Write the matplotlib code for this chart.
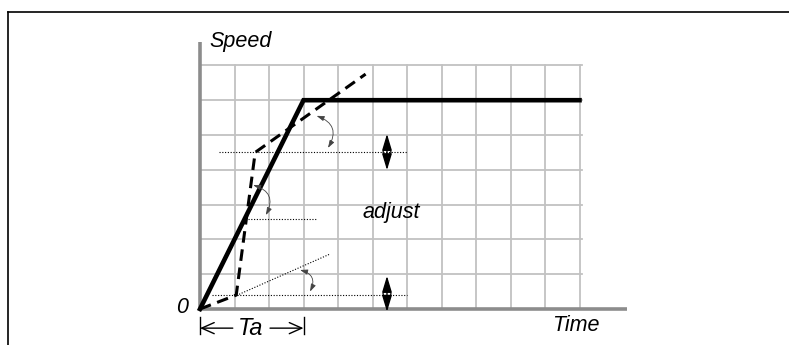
import matplotlib
matplotlib.use("Agg")
import matplotlib.pyplot as plt
from matplotlib.lines import Line2D

plt.rcParams['font.family'] = ['Liberation Sans', 'DejaVu Sans']

# grid in cell units
n_cols = 11
n_rows = 7

# solid speed profile (time, speed)
solid_t = [0, 3, 11]
solid_v = [0, 6, 6]

# dashed (adjusted) profile
dash_t = [0, 1.05, 1.6, 4.8]
dash_v = [0, 0.4, 4.5, 6.75]

# dotted reference lines: (y, x_start, x_end)
hlines_y = [4.52, 2.6, 0.39]
hlines_x0 = [0.55, 1.4, 0.34]
hlines_x1 = [6.0, 3.38, 6.0]
slant_t = [1.06, 3.77]
slant_v = [0.39, 1.58]

# curved angle arrows: start / end points
arc_start = [(3.38, 5.55), (1.54, 3.56), (2.90, 1.12)]
arc_end = [(3.71, 4.63), (1.91, 2.70), (3.19, 0.50)]

# vertical "adjust" double arrows
adj_x = 5.42
adj_top = [5.03, 0.95]
adj_bot = [3.99, -0.08]

# Ta span
ta_t0, ta_t1 = 0, 3

fig = plt.figure(figsize=(7.89, 3.45), dpi=100)
ax = fig.add_axes([0, 0, 1, 1])
px_x = 34.5
px_y = 34.8
ax.set_xlim(-200 / px_x, (789 - 200) / px_x)
ax.set_ylim(-36 / px_y, 309 / px_y)
ax.axis('off')

# frame (top and left only)
fig.add_artist(Line2D([8 / 789, 1], [1 - 12 / 345, 1 - 12 / 345], color='black', lw=1.2))
fig.add_artist(Line2D([8 / 789, 8 / 789], [0, 1 - 12 / 345], color='black', lw=1.2))

# grid
for i in range(1, n_cols + 1):
    ax.plot([i, i], [0, n_rows], color='#c2c2c2', lw=1.3, zorder=1)
for j in range(1, n_rows + 1):
    ax.plot([0, n_cols + 0.07], [j, j], color='#c2c2c2', lw=1.3, zorder=1)

# axes
ax.plot([0, 0], [0, 7.67], color='#8c8c8c', lw=2.6, zorder=2, solid_capstyle='butt')
ax.plot([0, 12.38], [0, 0], color='#8c8c8c', lw=2.6, zorder=2, solid_capstyle='butt')

# dotted reference lines
for y, x0, x1 in zip(hlines_y, hlines_x0, hlines_x1):
    ax.plot([x0, x1], [y, y], color='black', lw=0.8, ls=(0, (1, 1.5)), zorder=3)
ax.plot(slant_t, slant_v, color='black', lw=0.8, ls=(0, (1, 1.5)), zorder=3)

# profiles
ax.plot(solid_t, solid_v, color='black', lw=3.3, zorder=5, solid_joinstyle='miter')
ax.plot(dash_t, dash_v, color='black', lw=2.2, ls=(0, (3.8, 2.2)), zorder=4,
        dash_joinstyle='round')

# curved angle arrows
for s, e in zip(arc_start, arc_end):
    ax.annotate('', xy=e, xytext=s,
                arrowprops=dict(arrowstyle='<|-|>,head_length=0.45,head_width=0.15',
                                connectionstyle='arc3,rad=-0.6', color='#444444',
                                lw=0.6, shrinkA=0, shrinkB=0, mutation_scale=10),
                zorder=6)

# vertical double arrows with hollow diamond
for top, bot in zip(adj_top, adj_bot):
    ax.annotate('', xy=(adj_x, top), xytext=(adj_x, bot),
                arrowprops=dict(arrowstyle='<|-|>,head_length=1.0,head_width=0.3',
                                color='black', lw=1.0, shrinkA=0, shrinkB=0,
                                mutation_scale=10),
                zorder=6)
    mid = (top + bot) / 2
    h = (top - bot) * 0.3
    dw = 0.12
    ax.plot([adj_x, adj_x - dw, adj_x, adj_x + dw, adj_x],
            [top - h, mid, bot + h, mid, top - h], color='black', lw=0.8, zorder=6)

# Ta span
for t in (ta_t0, ta_t1):
    ax.plot([t, t], [-0.22, -0.72], color='black', lw=1.0)
ax.annotate('', xy=(ta_t0, -0.55), xytext=(0.95, -0.55),
            arrowprops=dict(arrowstyle='->,head_length=0.9,head_width=0.4', color='black',
                            lw=1.0, shrinkA=0, shrinkB=0, mutation_scale=10))
ax.annotate('', xy=(ta_t1, -0.55), xytext=(2.03, -0.55),
            arrowprops=dict(arrowstyle='->,head_length=0.9,head_width=0.4', color='black',
                            lw=1.0, shrinkA=0, shrinkB=0, mutation_scale=10))

fs = 15.5
ax.text(1.48, -0.55, 'Ta', fontsize=17, style='italic', ha='center', va='center')
ax.text(0.26, 7.70, 'Speed', fontsize=fs, style='italic', ha='left', va='center')
ax.text(-0.52, 0.03, '0', fontsize=fs, style='italic', ha='center', va='center')
ax.text(10.9, -0.46, 'Time', fontsize=fs, style='italic', ha='center', va='center')
ax.text(5.54, 2.76, 'adjust', fontsize=fs, style='italic', ha='center', va='center')

fig.savefig('out.png', dpi=100)
